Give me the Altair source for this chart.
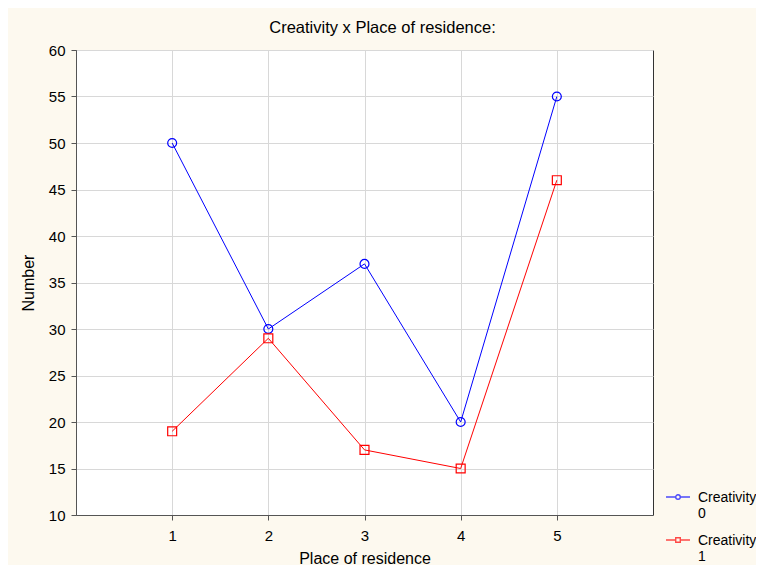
import altair as alt
import pandas as pd

places = [1, 2, 3, 4, 5]
creativity0 = [50, 30, 37, 20, 55]
creativity1 = [19, 29, 17, 15, 46]
series_names = ["0", "1"]

rows = []
for p, v in zip(places, creativity0):
    rows.append({"place": p, "number": v, "series": "0"})
for p, v in zip(places, creativity1):
    rows.append({"place": p, "number": v, "series": "1"})
df = pd.DataFrame(rows)

FONT = "Liberation Sans"
colors = ["#0000ff", "#ff0000"]

r = 0.19
dy = 0.5
circle_path = (f"M-1,{dy}L-{r},{dy}M{r},{dy}L1,{dy}"
               f"M-{r},{dy}A{r},{r},0,1,1,{r},{dy}A{r},{r},0,1,1,-{r},{dy}")
square_path = (f"M-1,{dy}L-{r},{dy}M{r},{dy}L1,{dy}"
               f"M-{r},{dy - r}L{r},{dy - r}L{r},{dy + r}L-{r},{dy + r}Z")

x = alt.X("place:Q", title="Place of residence",
          scale=alt.Scale(domain=[0, 6], nice=False),
          axis=alt.Axis(values=places, grid=True, tickSize=5, labelPadding=8,
                        titlePadding=7))
y = alt.Y("number:Q", title="Number",
          scale=alt.Scale(domain=[10, 60], nice=False, zero=False),
          axis=alt.Axis(values=list(range(10, 61, 5)), grid=True, tickSize=5,
                        labelPadding=6, titlePadding=12))

base = alt.Chart(df)

lines = base.mark_line(strokeWidth=1).encode(
    x=x, y=y,
    color=alt.Color("series:N", scale=alt.Scale(domain=series_names, range=colors), legend=None),
    detail="series:N",
)
points = base.mark_point(filled=False, size=80, strokeWidth=1.2, opacity=1).encode(
    x=x, y=y,
    color=alt.Color("series:N", scale=alt.Scale(domain=series_names, range=colors), legend=None),
    shape=alt.Shape("series:N", scale=alt.Scale(domain=series_names, range=["circle", "square"]), legend=None),
)
leg = alt.Legend(title=None, labelExpr="['Creativity', datum.label]")
legend_carrier = base.transform_filter("false").mark_point(filled=False, size=80).encode(
    x=x, y=y,
    color=alt.Color("series:N", scale=alt.Scale(domain=series_names, range=colors), legend=leg),
    shape=alt.Shape("series:N", scale=alt.Scale(domain=series_names, range=[circle_path, square_path]),
                    legend=leg),
)

chart = alt.layer(lines, points, legend_carrier).resolve_scale(
    color="independent", shape="independent"
).properties(
    width=577, height=465,
    title=alt.TitleParams("Creativity x Place of residence:", font=FONT, fontSize=16.5,
                          fontWeight="normal", color="#000", offset=7, dx=18),
    background="#fdf9ef",
    padding={"left": 68, "top": 42, "right": 103, "bottom": 50},
    autosize=alt.AutoSizeParams(type="none"),
).configure_view(
    fill="white", stroke="#333", strokeWidth=1
).configure_axis(
    labelFont=FONT, titleFont=FONT, labelFontSize=15, titleFontSize=16,
    titleFontWeight="normal", labelColor="#000", titleColor="#000",
    gridColor="#d8d8d8", gridWidth=1, domainColor="#555", tickColor="#555",
    domain=True,
).configure_legend(
    orient="none", legendX=589, legendY=428,
    labelFont=FONT, labelFontSize=14, labelColor="#000",
    symbolSize=576, symbolStrokeWidth=1.4, symbolFillColor="transparent",
    labelBaseline="top",
    labelOffset=7, rowPadding=0, labelLimit=200,
)

chart.save("out.html", embed_options={"renderer": "svg", "actions": False})
